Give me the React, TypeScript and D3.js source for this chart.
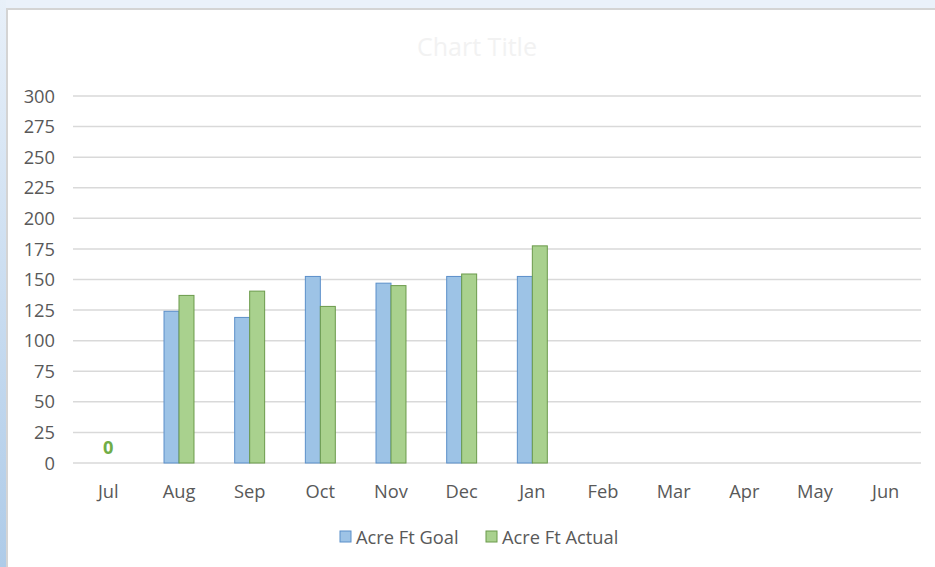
import React from "react";
import * as d3 from "d3";

const months = ["Jul", "Aug", "Sep", "Oct", "Nov", "Dec", "Jan", "Feb", "Mar", "Apr", "May", "Jun"];
const goal: (number | null)[] = [null, 124, 119, 152.5, 147, 152.5, 152.5, null, null, null, null, null];
const actual: (number | null)[] = [0, 137, 140.5, 128, 145, 154.5, 177.5, null, null, null, null, null];
const yTicks = [0, 25, 50, 75, 100, 125, 150, 175, 200, 225, 250, 275, 300];
const seriesNames = ["Acre Ft Goal", "Acre Ft Actual"];

const W = 935;
const H = 567;
const FONT = "'Open Sans', sans-serif";
const FS = 18.3;
const fills = ["#9dc3e6", "#a9d18e"];
const strokes = ["#5b8fc9", "#6b9a4b"];

export default function App() {
  const x = d3.scaleBand<string>().domain(months).range([73, 921]);
  const y = d3.scaleLinear().domain([0, 300]).range([463, 96]);
  const bw = x.bandwidth() * 0.212;
  const series = [goal, actual];

  return (
    <svg width={W} height={H} style={{ position: "absolute", left: 0, top: 0 }}>
      <defs>
        <linearGradient id="leftg" x1="0" y1="0" x2="0" y2="1">
          <stop offset="0" stopColor="#e8f0f9" />
          <stop offset="1" stopColor="#aecbe8" />
        </linearGradient>
      </defs>
      <rect x={0} y={0} width={W} height={H} fill="#eaf1fa" />
      <rect x={0} y={0} width={6} height={H} fill="url(#leftg)" />
      <rect x={6} y={8} width={W - 6} height={H - 8} fill="#d4d4d4" />
      <rect x={8} y={10} width={W - 8} height={H - 10} fill="#ffffff" />
      <text x={477} y={56} textAnchor="middle" fontFamily={FONT} fontSize={25} fill="#f2f2f2">
        Chart Title
      </text>
      {yTicks.map((t) => (
        <g key={t}>
          <line x1={73} x2={921} y1={y(t)} y2={y(t)} stroke="#d9d9d9" strokeWidth={1.5} />
          <text
            x={55}
            y={y(t)}
            dy="0.36em"
            textAnchor="end"
            fontFamily={FONT}
            fontSize={FS}
            fill="#595959"
          >
            {t}
          </text>
        </g>
      ))}
      {months.map((m) => (
        <text
          key={m}
          x={(x(m) as number) + x.bandwidth() / 2}
          y={491}
          dy="0.36em"
          textAnchor="middle"
          fontFamily={FONT}
          fontSize={FS}
          fill="#595959"
        >
          {m}
        </text>
      ))}
      {series.map((s, si) =>
        s.map((v, i) => {
          if (v === null || v === 0) return null;
          const cx = (x(months[i]) as number) + x.bandwidth() / 2;
          const bx = cx - bw + si * bw;
          return (
            <rect
              key={si + "-" + i}
              x={bx}
              y={y(v)}
              width={bw}
              height={y(0) - y(v)}
              fill={fills[si]}
              stroke={strokes[si]}
              strokeWidth={1}
            />
          );
        })
      )}
      {actual.map((v, i) =>
        v === 0 ? (
          <text
            key={"lbl" + i}
            x={(x(months[i]) as number) + x.bandwidth() / 2}
            y={y(0) - 16}
            dy="0.36em"
            textAnchor="middle"
            fontFamily={FONT}
            fontSize={FS}
            fontWeight="bold"
            fill="#70ad47"
          >
            {v}
          </text>
        ) : null
      )}
      {seriesNames.map((n, i) => {
        const lx = i === 0 ? 340 : 486;
        return (
          <g key={n}>
            <rect x={lx} y={531} width={11} height={11} fill={fills[i]} stroke={strokes[i]} strokeWidth={1} />
            <text x={lx + 16} y={537} dy="0.36em" fontFamily={FONT} fontSize={FS} fill="#595959">
              {n}
            </text>
          </g>
        );
      })}
    </svg>
  );
}
